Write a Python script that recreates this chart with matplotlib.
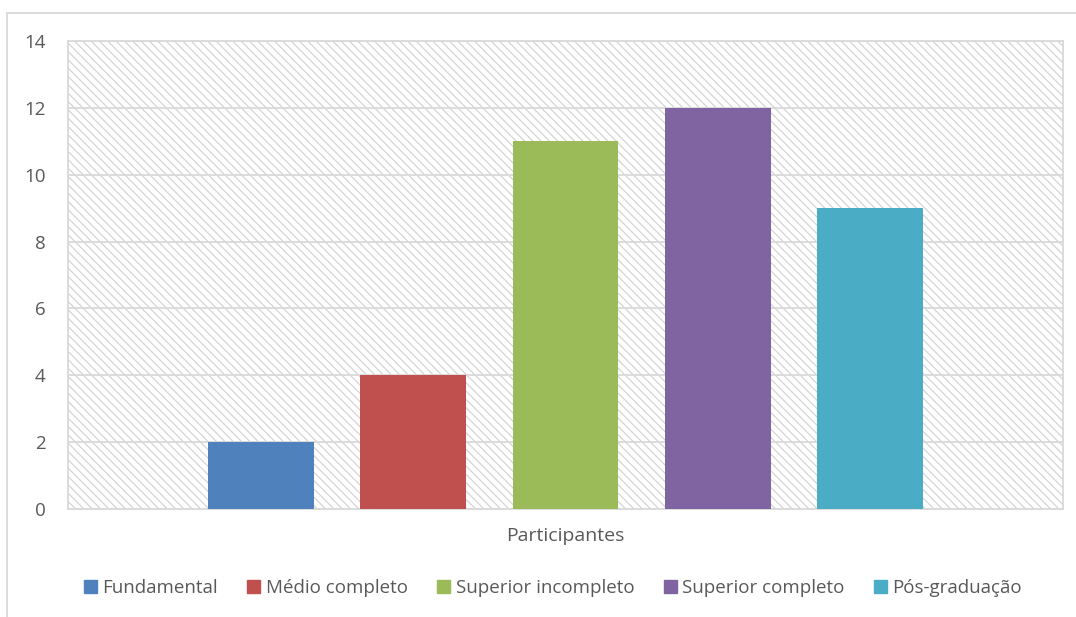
import matplotlib
matplotlib.use("Agg")
import matplotlib.pyplot as plt
from matplotlib.patches import Rectangle, Patch

categories = ["Participantes"]
series = ["Fundamental", "Médio completo", "Superior incompleto", "Superior completo", "Pós-graduação"]
values = [2, 4, 11, 12, 9]
colors = ["#4f81bd", "#c0504d", "#9bbb59", "#8064a2", "#4bacc6"]
yticks = [0, 2, 4, 6, 8, 10, 12, 14]

plt.rcParams['font.family'] = ['Open Sans', 'DejaVu Sans']
plt.rcParams['hatch.linewidth'] = 0.8

W, H = 1076, 617
fig = plt.figure(figsize=(W / 100, H / 100), dpi=100)
fig.patch.set_facecolor("white")

# outer chart border
fig.patches.append(Rectangle((7 / W, -0.1), 1.2, (H - 13) / H + 0.1, transform=fig.transFigure,
                             facecolor="none", edgecolor="#d9d9d9", lw=1.3, zorder=0))

ax = fig.add_axes([68 / W, (H - 509) / H, 995 / W, 468 / H])
ax.set_facecolor("white")
ax.add_patch(Rectangle((0, 0), 1, 1, transform=ax.transAxes, facecolor="white",
                       edgecolor="#d0d0d0", hatch="\\\\\\\\", lw=0, zorder=0))

step = 0.1528
width = 0.1065
n = len(series)
for i, (s, v, c) in enumerate(zip(series, values, colors)):
    ax.bar(0 + (i - (n - 1) / 2) * step, v, width=width, color=c, zorder=3, label=s)

ax.set_xlim(-0.5, 0.5)
ax.set_ylim(0, 14)
ax.set_yticks(yticks)
ax.set_yticklabels([str(t) for t in yticks])
ax.set_xticks([0])
ax.set_xticklabels(categories)
ax.yaxis.grid(True, color="#d9d9d9", lw=1.3, zorder=1)
ax.set_axisbelow(False)
for sp in ax.spines.values():
    sp.set_color("#d9d9d9")
    sp.set_linewidth(1.3)
    sp.set_zorder(2)
ax.tick_params(axis="both", length=0, labelcolor="#595959")
ax.tick_params(axis="y", pad=16, labelsize=13.5)
ax.tick_params(axis="x", pad=13, labelsize=14)

handles = [Patch(facecolor=c, edgecolor=c) for c in colors]
fig.legend(handles, series, loc="center", bbox_to_anchor=(553 / W, 1 - 588 / H), ncol=5,
           frameon=False, fontsize=13.5, labelcolor="#595959", handlelength=0.7, handleheight=0.7,
           handletextpad=0.3, columnspacing=1.55, borderaxespad=0)

fig.savefig("out.png", dpi=100, facecolor="white")
